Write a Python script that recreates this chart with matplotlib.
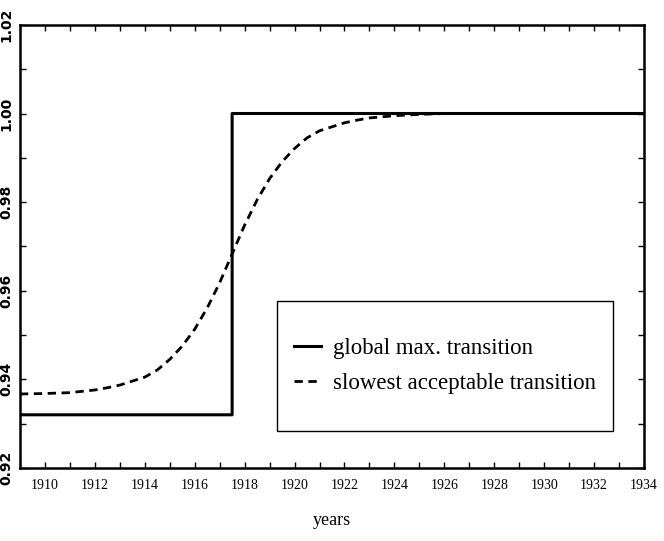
import matplotlib
matplotlib.use("Agg")
import matplotlib.pyplot as plt
from matplotlib.patches import Rectangle
from matplotlib.ticker import MultipleLocator

# global max. transition (step)
step_years = [1909, 1917.5, 1934]
step_level = [0.932, 1.0, 1.0]

# slowest acceptable transition
slow_years = [1909.0, 1910.0, 1911.0, 1912.0, 1912.5, 1913.0, 1913.5, 1914.0,
              1914.5, 1915.0, 1915.5, 1916.0, 1916.5, 1917.0, 1917.5, 1918.0,
              1918.5, 1919.0, 1919.5, 1920.0, 1920.5, 1921.0, 1921.5, 1922.0,
              1922.5, 1923.0, 1924.0, 1925.0, 1926.0, 1934.0]
slow_level = [0.9367, 0.9368, 0.9370, 0.9376, 0.9381, 0.9387, 0.9396, 0.9405,
              0.9421, 0.9445, 0.9475, 0.9513, 0.9561, 0.9618, 0.9683, 0.9748,
              0.9805, 0.9853, 0.9891, 0.9921, 0.9945, 0.9961, 0.9970, 0.9979,
              0.9985, 0.9990, 0.9995, 0.9998, 1.0000, 1.0000]

y_ticks = [0.92, 0.94, 0.96, 0.98, 1.00, 1.02]
y_labels = ['0.92', '0.94', '0.96', '0.98', '1.00', '1.02']

fig = plt.figure(figsize=(6.64, 5.41), dpi=100)
ax = fig.add_axes([0.030, 0.135, 0.940, 0.819])

ax.plot(slow_years, slow_level, color='black', lw=2.0, dashes=(3, 2),
        label='slowest acceptable transition', zorder=2, snap=False)
ax.plot(step_years, step_level, drawstyle='steps-post', color='black',
        lw=2.2, label='global max. transition', zorder=3, snap=False)

ax.set_xlim(1909, 1934)
ax.set_ylim(0.92, 1.02)

ax.xaxis.set_major_locator(MultipleLocator(2))
ax.xaxis.set_minor_locator(MultipleLocator(1))
ax.set_yticks(y_ticks)
ax.yaxis.set_minor_locator(MultipleLocator(0.01))
ax.tick_params(which='both', direction='in', top=True, right=True,
               length=4, width=1)
ax.tick_params(axis='x', labelsize=10, pad=8)
ax.tick_params(axis='y', labelsize=10, pad=5)

ax.set_yticklabels(y_labels, rotation=90, va='center', fontweight='bold')
for lab in ax.get_xticklabels():
    lab.set_fontfamily('Liberation Serif')

for sp in ax.spines.values():
    sp.set_linewidth(1.8)

ax.set_xlabel('years', fontfamily='Liberation Serif', fontsize=13, labelpad=14)

# legend box drawn separately so it can be taller than its text
box = Rectangle((0.412, 0.0835), 0.538, 0.2935, transform=ax.transAxes,
                fill=True, facecolor='white', edgecolor='black', lw=1.0,
                zorder=4)
ax.add_patch(box)
handles, labels = ax.get_legend_handles_labels()
leg = ax.legend(handles[::-1], labels[::-1], loc='center',
                bbox_to_anchor=(0.412 + 0.538 / 2, 0.0835 + 0.2935 / 2),
                prop={'family': 'Liberation Serif', 'size': 16.5},
                frameon=False, handlelength=1.2, handletextpad=0.5,
                labelspacing=0.6, borderpad=0, borderaxespad=0)
leg.set_zorder(5)

fig.savefig('out.png', dpi=100)
